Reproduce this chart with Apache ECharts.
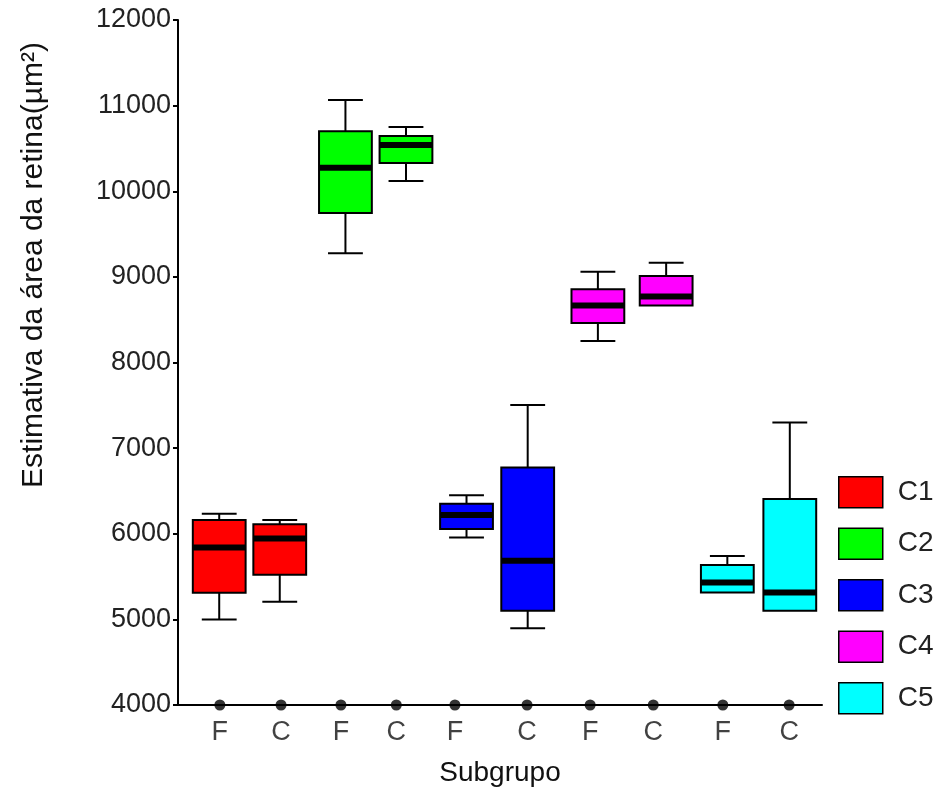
<!DOCTYPE html>
<html>
<head>
<meta charset="utf-8">
<script src="https://cdn.jsdelivr.net/npm/echarts@6/dist/echarts.min.js"></script>
<style>
  html, body { margin: 0; padding: 0; background: #fff; }
  #chart { width: 944px; height: 793px; }
</style>
</head>
<body>
<div id="chart"></div>
<script>
// groups and subgroups
const groups = ['C1', 'C2', 'C3', 'C4', 'C5'];
const tickLabels = ['F', 'C', 'F', 'C', 'F', 'C', 'F', 'C', 'F', 'C'];
// x value of each box and of each axis dot (value axis 0..100)
const boxX = [6.4, 15.8, 26.0, 35.4, 44.8, 54.3, 65.2, 75.8, 85.3, 95.0];
const tickX = [6.5, 16.0, 25.3, 33.9, 43.0, 54.2, 64.0, 73.8, 84.6, 94.9];
// [min, Q1, median, Q3, max] per group: F then C
const c1Boxes = [[5000, 5310, 5840, 6160, 6235], [5205, 5520, 5945, 6110, 6160]];
const c2Boxes = [[9275, 9745, 10275, 10700, 11065], [10120, 10330, 10540, 10645, 10750]];
const c3Boxes = [[5955, 6055, 6220, 6350, 6450], [4895, 5100, 5685, 6775, 7505]];
const c4Boxes = [[8250, 8460, 8665, 8855, 9060], [8665, 8665, 8770, 9010, 9165]];
const c5Boxes = [[5315, 5315, 5430, 5635, 5740], [5100, 5100, 5315, 6405, 7300]];
const yTicks = [4000, 5000, 6000, 7000, 8000, 9000, 10000, 11000, 12000];

const colors = ['#ff0000', '#00ff00', '#0000ff', '#ff00ff', '#00ffff'];
const allBoxes = [c1Boxes, c2Boxes, c3Boxes, c4Boxes, c5Boxes];
const font = '"Liberation Sans", Arial, sans-serif';
const boxWidth = 8.2;

const chart = echarts.init(document.getElementById('chart'));

function renderBox(params, api) {
  const x = api.value(0);
  const pMin = api.coord([x, api.value(1)]);
  const pQ1 = api.coord([x, api.value(2)]);
  const pMed = api.coord([x, api.value(3)]);
  const pQ3 = api.coord([x, api.value(4)]);
  const pMax = api.coord([x, api.value(5)]);
  const half = api.size([boxWidth, 0])[0] / 2;
  const cap = half * 0.66;
  const cx = pMed[0];
  const line = { stroke: '#000', lineWidth: 2 };
  const children = [];
  if (api.value(5) > api.value(4)) {
    children.push({ type: 'line', shape: { x1: cx, y1: pMax[1], x2: cx, y2: pQ3[1] }, style: line });
    children.push({ type: 'line', shape: { x1: cx - cap, y1: pMax[1], x2: cx + cap, y2: pMax[1] }, style: line });
  }
  if (api.value(1) < api.value(2)) {
    children.push({ type: 'line', shape: { x1: cx, y1: pMin[1], x2: cx, y2: pQ1[1] }, style: line });
    children.push({ type: 'line', shape: { x1: cx - cap, y1: pMin[1], x2: cx + cap, y2: pMin[1] }, style: line });
  }
  children.push({
    type: 'rect',
    shape: { x: cx - half, y: pQ3[1], width: half * 2, height: pQ1[1] - pQ3[1] },
    style: { fill: api.visual('color'), stroke: '#000', lineWidth: 2 }
  });
  children.push({ type: 'line', shape: { x1: cx - half, y1: pMed[1], x2: cx + half, y2: pMed[1] }, style: { stroke: '#000', lineWidth: 6 } });
  return { type: 'group', children: children };
}

const series = groups.map((g, gi) => ({
  name: g,
  type: 'custom',
  renderItem: renderBox,
  itemStyle: { color: colors[gi] },
  encode: { x: 0, y: [1, 2, 3, 4, 5] },
  clip: false,
  data: allBoxes[gi].map((b, k) => [boxX[gi * 2 + k]].concat(b))
}));

series.push({
  type: 'scatter',
  symbol: 'circle',
  symbolSize: 11,
  itemStyle: { color: '#000' },
  clip: false,
  z: 5,
  label: {
    show: true,
    position: 'bottom',
    distance: 9,
    fontFamily: font,
    fontSize: 27,
    color: '#111',
    formatter: p => tickLabels[p.dataIndex]
  },
  data: tickX.map(x => [x, yTicks[0]])
});

const option = {
  animation: false,
  backgroundColor: '#fff',
  grid: { left: 178, right: 122, top: 20, bottom: 88 },
  xAxis: {
    type: 'value',
    min: 0,
    max: 100,
    name: 'Subgrupo',
    nameLocation: 'middle',
    nameGap: 54,
    nameTextStyle: { fontFamily: font, fontSize: 28, color: '#111' },
    axisLine: { show: true, lineStyle: { color: '#000', width: 2 } },
    axisTick: { show: false },
    axisLabel: { show: false },
    splitLine: { show: false }
  },
  yAxis: {
    type: 'value',
    min: yTicks[0],
    max: yTicks[yTicks.length - 1],
    interval: 1000,
    axisLine: { show: true, lineStyle: { color: '#000', width: 2 } },
    axisTick: { show: true, length: 5, lineStyle: { color: '#000', width: 2 } },
    axisLabel: { fontFamily: font, fontSize: 27, color: '#222', margin: 7, formatter: v => String(v) },
    splitLine: { show: false }
  },
  legend: {
    orient: 'vertical',
    left: 838,
    top: 476,
    padding: 0,
    itemWidth: 44,
    itemHeight: 31,
    itemGap: 19,
    textStyle: { fontFamily: font, fontSize: 28, color: '#222', padding: [0, 0, 0, 10] },
    data: groups.map(g => ({ name: g, icon: 'rect', itemStyle: { borderColor: '#000', borderWidth: 1.5 } }))
  },
  graphic: [{
    type: 'text',
    x: 34,
    y: 265,
    rotation: Math.PI / 2,
    style: {
      text: 'Estimativa da área da retina(µm²)',
      fontFamily: font,
      fontSize: 30,
      fill: '#111',
      textAlign: 'center',
      textVerticalAlign: 'middle'
    }
  }],
  series: series
};

chart.setOption(option);
</script>
</body>
</html>
